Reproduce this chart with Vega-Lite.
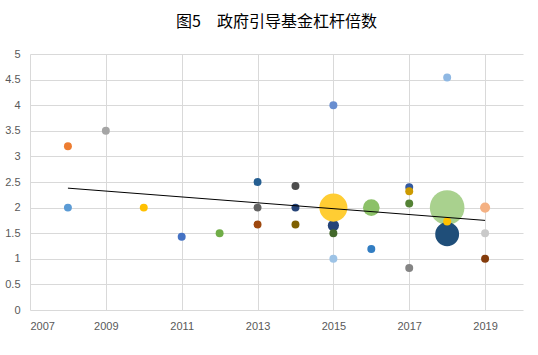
{
  "$schema": "https://vega.github.io/schema/vega-lite/v6.json",
  "width": 493,
  "height": 256,
  "autosize": {"type": "none"},
  "padding": {"left": 30, "top": 54, "right": 15, "bottom": 45},
  "background": "white",
  "title": {
    "text": "图5　政府引导基金杠杆倍数",
    "font": "Noto Sans CJK SC",
    "fontSize": 16,
    "fontWeight": "normal",
    "color": "#000000",
    "anchor": "middle",
    "offset": 18
  },
  "datasets": {
    "pts": [
      {"id": "p1", "year": 2008, "value": 3.2, "w": 1},
      {"id": "p2", "year": 2008, "value": 2.0, "w": 1},
      {"id": "p3", "year": 2009, "value": 3.5, "w": 1},
      {"id": "p4", "year": 2010, "value": 2.0, "w": 1},
      {"id": "p5", "year": 2011, "value": 1.43, "w": 1},
      {"id": "p6", "year": 2012, "value": 1.5, "w": 1},
      {"id": "p7", "year": 2013, "value": 2.5, "w": 1},
      {"id": "p8", "year": 2013, "value": 2.0, "w": 1},
      {"id": "p9", "year": 2013, "value": 1.67, "w": 1},
      {"id": "p10", "year": 2014, "value": 2.42, "w": 1},
      {"id": "p11", "year": 2014, "value": 2.0, "w": 1},
      {"id": "p12", "year": 2014, "value": 1.67, "w": 1},
      {"id": "p13", "year": 2015, "value": 4.0, "w": 1},
      {"id": "p14", "year": 2015, "value": 1.65, "w": 2},
      {"id": "p15", "year": 2015, "value": 2.0, "w": 12.5},
      {"id": "p16", "year": 2015, "value": 1.5, "w": 1},
      {"id": "p17", "year": 2015, "value": 1.0, "w": 1},
      {"id": "p18", "year": 2016, "value": 2.0, "w": 4.4},
      {"id": "p19", "year": 2016, "value": 1.19, "w": 1},
      {"id": "p20", "year": 2017, "value": 2.4, "w": 1},
      {"id": "p21", "year": 2017, "value": 2.32, "w": 1},
      {"id": "p22", "year": 2017, "value": 2.08, "w": 1},
      {"id": "p23", "year": 2017, "value": 0.82, "w": 1},
      {"id": "p24", "year": 2018, "value": 4.54, "w": 1},
      {"id": "p25", "year": 2018, "value": 2.0, "w": 19},
      {"id": "p26", "year": 2018, "value": 1.48, "w": 9},
      {"id": "p27", "year": 2018, "value": 1.73, "w": 1},
      {"id": "p28", "year": 2019, "value": 2.0, "w": 1.6},
      {"id": "p29", "year": 2019, "value": 1.5, "w": 1},
      {"id": "p30", "year": 2019, "value": 1.0, "w": 1}
    ],
    "trend": [
      {"year": 2008, "value": 2.38},
      {"year": 2019, "value": 1.75}
    ]
  },
  "encoding": {
    "x": {
      "field": "year", "type": "quantitative",
      "scale": {"domain": [2007, 2020], "nice": false, "zero": false},
      "axis": {"values": [2007, 2009, 2011, 2013, 2015, 2017, 2019], "format": "d", "title": null, "labelOverlap": false}
    },
    "y": {
      "field": "value", "type": "quantitative",
      "scale": {"domain": [0, 5], "nice": false},
      "axis": {"values": [0, 0.5, 1, 1.5, 2, 2.5, 3, 3.5, 4, 4.5, 5], "format": "~g", "title": null, "labelOverlap": false}
    }
  },
  "layer": [
    {
      "data": {"name": "pts"},
      "mark": {"type": "circle", "opacity": 1},
      "encoding": {
        "size": {
          "field": "w", "type": "quantitative",
          "scale": {"type": "linear", "domain": [0, 19], "range": [0, 1200]},
          "legend": null
        },
        "color": {
          "field": "id", "type": "nominal", "legend": null,
          "scale": {
            "domain": ["p1","p2","p3","p4","p5","p6","p7","p8","p9","p10","p11","p12","p13","p14","p15","p16","p17","p18","p19","p20","p21","p22","p23","p24","p25","p26","p27","p28","p29","p30"],
            "range": ["#ED7D31","#5B9BD5","#A5A5A5","#FFC000","#4472C4","#70AD47","#255E91","#636363","#9E480E","#4D4D4D","#264478","#7F6000","#698ED0","#264478","#FFCD33","#43682B","#9DC3E6","#8CC168","#327DC2","#335AA1","#CC9A00","#548235","#848484","#8FB8E3","#A9D18E","#1F4E79","#FFC000","#F4B183","#C9C9C9","#843C0C"]
          }
        }
      }
    },
    {
      "data": {"name": "trend"},
      "mark": {"type": "line", "color": "#000000", "strokeWidth": 1},
      "encoding": {}
    }
  ],
  "config": {
    "view": {"stroke": null},
    "axis": {
      "grid": true,
      "gridColor": "#D9D9D9",
      "gridWidth": 1,
      "domain": false,
      "ticks": false,
      "labelFont": "Liberation Sans",
      "labelFontSize": 11,
      "labelColor": "#595959",
      "labelPadding": 10
    }
  }
}
